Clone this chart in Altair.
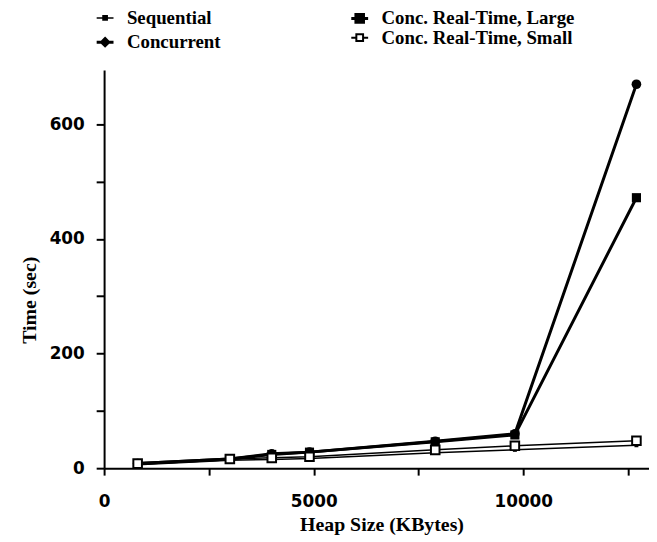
import altair as alt
import pandas as pd

# ---- data ----
heap_kb = [800, 3000, 4000, 4900, 7900, 9800, 12700]
sequential = [6, 14, 15, 17, 27, 32, 40]
concurrent = [8, 16, 25, 28, 47, 60, 670]
rt_large = [8, 16, 24, 28, 46, 58, 472]
rt_small = [8, 16, 18, 20, 32, 39, 48]

series_names = ["Sequential", "Concurrent", "Conc. Real-Time, Large", "Conc. Real-Time, Small"]
x_ticks = [0, 2500, 5000, 7500, 10000, 12500]
y_ticks = [0, 100, 200, 300, 400, 500, 600]

rows = []
for name, vals in zip(series_names, [sequential, concurrent, rt_large, rt_small]):
    for h, v in zip(heap_kb, vals):
        rows.append({"heap": h, "time": v, "series": name})
df = pd.DataFrame(rows)

X = alt.X(
    "heap:Q",
    scale=alt.Scale(domain=[0, 13000], nice=False),
    axis=alt.Axis(
        values=x_ticks, format="d",
        labelExpr="datum.value % 5000 === 0 ? datum.label : ''",
        grid=False, tickSize=7, tickWidth=2, tickColor="black",
        domainWidth=2, domainColor="black",
        labelFont="DejaVu Sans", labelFontSize=17, labelFontWeight="bold",
        labelColor="black", labelPadding=19, labelFlush=False,
        title="Heap Size (KBytes)", titleFont="Liberation Serif",
        titleFontSize=20, titleFontWeight="bold", titleColor="black",
        titleX=280, titleY=57, titleBaseline="middle",
    ),
)
Y = alt.Y(
    "time:Q",
    scale=alt.Scale(domain=[0, 695], nice=False),
    axis=alt.Axis(
        values=y_ticks, format="d",
        labelExpr="datum.value % 200 === 0 ? datum.label : ''",
        grid=False, tickSize=8, tickWidth=2, tickColor="black",
        domainWidth=2, domainColor="black",
        labelFont="DejaVu Sans", labelFontSize=17, labelFontWeight="bold",
        labelColor="black", labelPadding=12,
        title="Time (sec)", titleFont="Liberation Serif",
        titleFontSize=20, titleFontWeight="bold", titleColor="black",
        titleX=-75, titleY=232, titleBaseline="middle", titleAngle=270,
    ),
)

base = alt.Chart(df).encode(x=X, y=Y)

def sel(name):
    return base.transform_filter(alt.datum.series == name)

lines = [
    sel("Sequential").mark_line(color="black", strokeWidth=1.5),
    sel("Concurrent").mark_line(color="black", strokeWidth=3),
    sel("Conc. Real-Time, Large").mark_line(color="black", strokeWidth=3),
    sel("Conc. Real-Time, Small").mark_line(color="black", strokeWidth=1.5),
]
points = [
    sel("Sequential").mark_point(shape="square", filled=True, color="black", size=16, opacity=1),
    sel("Concurrent").mark_point(shape="circle", filled=True, color="black", size=95, opacity=1),
    sel("Conc. Real-Time, Large").mark_point(shape="square", filled=True, color="black", size=85, opacity=1),
    sel("Conc. Real-Time, Small").mark_point(shape="square", filled=True, fill="white",
                                             stroke="black", strokeWidth=2, size=75, opacity=1),
]

paths = {
    "Sequential": "M-1,0L1,0M-0.25,-0.25L0.25,-0.25L0.25,0.25L-0.25,0.25Z",
    "Concurrent": "M-1,0L1,0M0,-0.42L0.42,0L0,0.42L-0.42,0Z",
    "Conc. Real-Time, Large": "M-1,0L1,0M-0.45,-0.45L0.45,-0.45L0.45,0.45L-0.45,0.45Z",
    "Conc. Real-Time, Small": "M-1,0L-0.4,0M0.4,0L1,0M-0.4,-0.4L0.4,-0.4L0.4,0.4L-0.4,0.4Z",
}
fills = {"Sequential": "black", "Concurrent": "black",
         "Conc. Real-Time, Large": "black", "Conc. Real-Time, Small": "white"}
widths = {"Sequential": 1.5, "Concurrent": 3,
          "Conc. Real-Time, Large": 3, "Conc. Real-Time, Small": 2}

def legend_layer(names, lx, ly, rowpad):
    leg = alt.Legend(
        title=None, orient="none", legendX=lx, legendY=ly,
        labelFont="Liberation Serif", labelFontSize=19, labelFontWeight="bold",
        labelColor="black",
        labelOffset=12, labelLimit=500, rowPadding=rowpad, symbolSize=289,
        symbolStrokeColor="black", symbolOpacity=1,
    )
    return base.transform_filter(alt.datum.heap < 0).mark_point(
        filled=True, stroke="black", opacity=1
    ).encode(
        shape=alt.Shape("series:N", scale=alt.Scale(domain=names, range=[paths[n] for n in names]), legend=leg),
        fill=alt.Fill("series:N", scale=alt.Scale(domain=names, range=[fills[n] for n in names]), legend=leg),
        stroke=alt.Stroke("series:N", scale=alt.Scale(domain=names, range=["black", "black"]), legend=leg),
        strokeWidth=alt.StrokeWidth("series:N", scale=alt.Scale(domain=names, range=[widths[n] for n in names]), legend=leg),
    )

leg_left = legend_layer(["Sequential", "Concurrent"], -9, -62, 4)
leg_right = legend_layer(["Conc. Real-Time, Large", "Conc. Real-Time, Small"], 248, -62, -3)

chart = alt.layer(*lines, *points, leg_left, leg_right).resolve_scale(
    shape="independent", fill="independent", stroke="independent", strokeWidth="independent"
).properties(
    width=550, height=402,
    autosize=alt.AutoSizeParams(type="none"),
    padding={"left": 97, "top": 60, "right": 0, "bottom": 70},
    background="white",
).configure_view(stroke=None)

chart.save("out.html", embed_options={"renderer": "svg", "actions": False})
